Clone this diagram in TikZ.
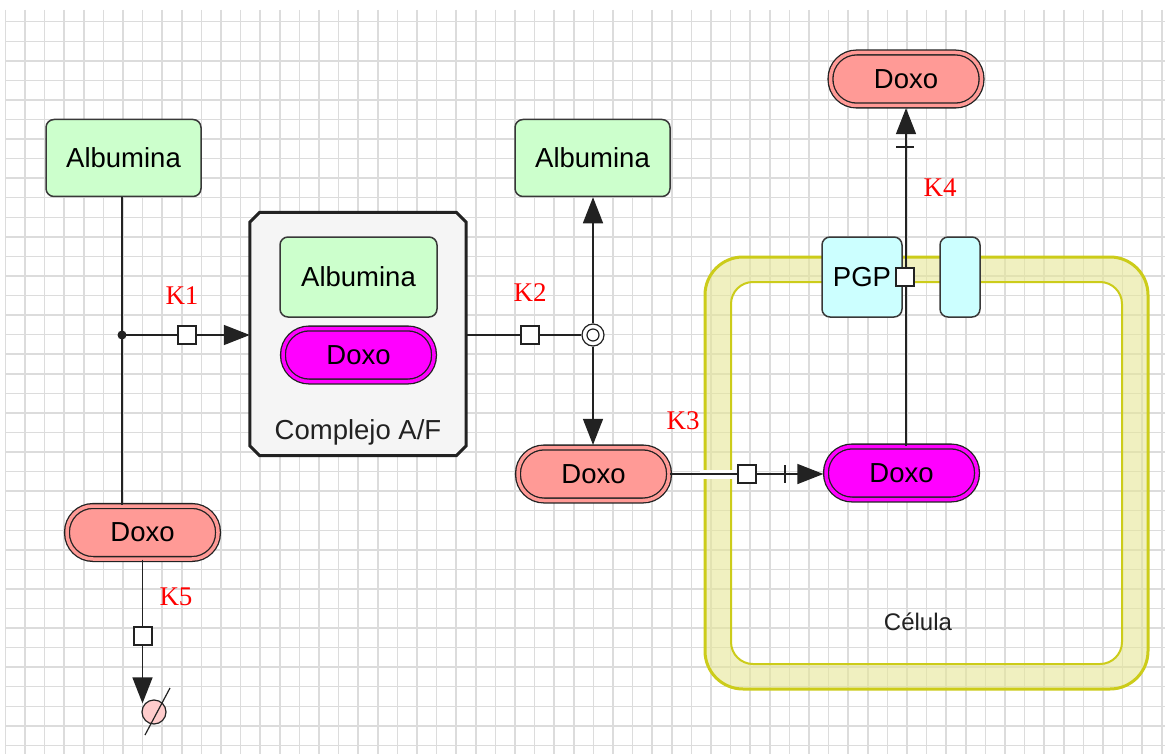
\documentclass[tikz,border=0pt]{standalone}
\usepackage{fontspec}
\setmainfont{Liberation Sans}
\newfontfamily\serifK{Liberation Serif}
\usetikzlibrary{arrows.meta}
\definecolor{albfill}{HTML}{CCFFCC}
\definecolor{salmonc}{HTML}{FF9A96}
\definecolor{magc}{HTML}{FF00FF}
\definecolor{cyanfill}{HTML}{CCFFFF}
\definecolor{gridc}{HTML}{DCDCDC}
\definecolor{bandedge}{HTML}{CCCC1A}
\definecolor{bandfill}{HTML}{E6E696}
\definecolor{linec}{HTML}{222222}
\definecolor{cplxfill}{HTML}{F5F5F5}
\definecolor{degfill}{HTML}{FFCCCC}
\tikzset{
  gridline/.style={draw=gridc, line width=1.5pt},
  albbox/.style={rectangle, rounded corners=8pt, draw=linec!90, line width=1.5pt, fill=albfill,
    minimum width=155pt, minimum height=77pt, inner sep=0pt, font=\fontsize{27.5}{30}\selectfont},
  doxobase/.style={rectangle, rounded corners=26pt, draw=linec, line width=1.3pt,
    double distance=3.5pt, minimum width=151pt, minimum height=53pt, inner sep=0pt,
    font=\fontsize{27.5}{30}\selectfont},
  doxos/.style={doxobase, double=salmonc, fill=salmonc},
  doxom/.style={doxobase, double=magc, fill=magc},
  sqbox/.style={rectangle, draw=linec, fill=white, line width=1.5pt, minimum size=18pt, inner sep=0pt},
  klabel/.style={text=red, font=\serifK\fontsize{27}{30}\selectfont, inner sep=0pt},
  conn/.style={draw=linec, line width=1.5pt},
  arr/.style={-{Triangle[length=26pt,width=20pt]}},
  cyanbox/.style={rectangle, rounded corners=8pt, draw=linec!90, line width=1.5pt, fill=cyanfill, inner sep=0pt},
  barmark/.style={draw=linec, line width=1.5pt},
}
\begin{document}
\begin{tikzpicture}[x=1pt,y=-1pt]
\useasboundingbox (0,0) rectangle (1169,754);
\fill[white] (0,0) rectangle (1169,754);
% grid
\foreach \k in {0,...,59} \draw[gridline] ({5.4+19.6*\k},10) -- ({5.4+19.6*\k},754);
\foreach \k in {0,...,37} \draw[gridline] (5.4,{21.7+19.56*\k}) -- (1165,{21.7+19.56*\k});

% cell band
\path[fill=bandfill, fill opacity=0.6, even odd rule]
  [rounded corners=38pt] (705,257) rectangle (1148,689)
  [rounded corners=22pt] (731,282) rectangle (1122,664);
\draw[bandedge, line width=3pt, rounded corners=38pt] (705,257) rectangle (1148,689);
\draw[bandedge, line width=2pt, rounded corners=22pt] (731,282) rectangle (1122,664);
\node[font=\fontsize{24}{28}\selectfont, text=linec] (celula) at (918,622) {Célula};

% nodes
\node[albbox] (alb1) at (123.5,158) {Albumina};
\node[albbox] (alb2) at (592.5,158) {Albumina};
\node[doxos] (doxo1) at (142.5,532.5) {Doxo};
\node[doxos] (doxo2) at (593.5,474) {Doxo};
\node[doxom] (doxo3) at (901.5,473) {Doxo};
\node[doxos] (doxo4) at (906,79) {Doxo};

% complex
\node[minimum width=216pt, minimum height=243pt, inner sep=0pt] (cplx) at (358,334) {};
\draw[line width=3pt, fill=cplxfill, draw=linec]
  ([xshift=10pt]cplx.north west) -- ([xshift=-10pt]cplx.north east)
  -- ([yshift=-10pt]cplx.north east) -- ([yshift=10pt]cplx.south east)
  -- ([xshift=-10pt]cplx.south east) -- ([xshift=10pt]cplx.south west)
  -- ([yshift=10pt]cplx.south west) -- ([yshift=-10pt]cplx.north west) -- cycle;
\node[albbox, minimum width=157pt, minimum height=80pt] (alb3) at (358.5,277) {Albumina};
\node[doxom] (doxo5) at (358.5,355) {Doxo};
\node[font=\fontsize{27.5}{30}\selectfont, text=linec] (cplxlabel) at (358,432) {Complejo A/F};

% PGP and transporter
\node[cyanbox, minimum width=80pt, minimum height=80pt, font=\fontsize{27.5}{30}\selectfont] (pgp) at (862,277) {PGP};
\node[cyanbox, minimum width=40pt, minimum height=80pt] (trans) at (960,277) {};

% junctions
\coordinate (j1) at (122,335);
\node[circle, draw=linec, fill=white, line width=1.2pt, minimum size=22pt, inner sep=0pt] (circ) at (593,335) {};
\draw[linec, line width=1.2pt] (circ.center) circle (6pt);

% connectors
\draw[conn] (j1 |- alb1.south) -- (j1 |- doxo1.north);
\fill[linec] (j1) circle (4.5pt);
\draw[conn, arr] (j1) -- (j1 -| cplx.west);
\node[sqbox] (sq1) at (187,335) {};
\node[klabel] (k1) at (182,296) {K1};

\draw[conn] (cplx.east |- circ.west) -- (circ.west);
\node[sqbox] (sq2) at (530,335) {};
\node[klabel] (k2) at (530,293) {K2};
\draw[conn, arr] (circ.north) -- (circ.north |- alb2.south);
\draw[conn, arr, shorten >=2pt] (circ.south) -- (circ.south |- doxo2.north);

\draw[white, line width=9pt] (700,474) -- (737,474);
\draw[conn, arr, shorten >=2pt] (doxo2.east) -- (doxo2.east -| doxo3.west);
\node[sqbox] (sq3) at (747,474) {};
\draw[barmark] (785,465) -- (785,483);
\node[klabel] (k3) at (683,421) {K3};

\draw[conn, arr, shorten >=2pt] (doxo3.north -| doxo4.south) -- (doxo4.south);
\node[sqbox] (sq4) at (905,277) {};
\draw[barmark] (896,147) -- (914,147);
\node[klabel] (k4) at (940,188) {K4};

% degradation
\node[circle, draw=linec, fill=degfill, line width=1.2pt, minimum size=24pt, inner sep=0pt] (deg) at (154,712) {};
\draw[linec, line width=1.2pt] (deg.center) ++(-9,23) -- ++(25,-47);
\draw[conn, arr, shorten >=-4pt] (doxo1.south) -- (doxo1.south |- deg.north);
\node[sqbox] (sq5) at (143,636) {};
\node[klabel] (k5) at (176,597) {K5};
\end{tikzpicture}
\end{document}
